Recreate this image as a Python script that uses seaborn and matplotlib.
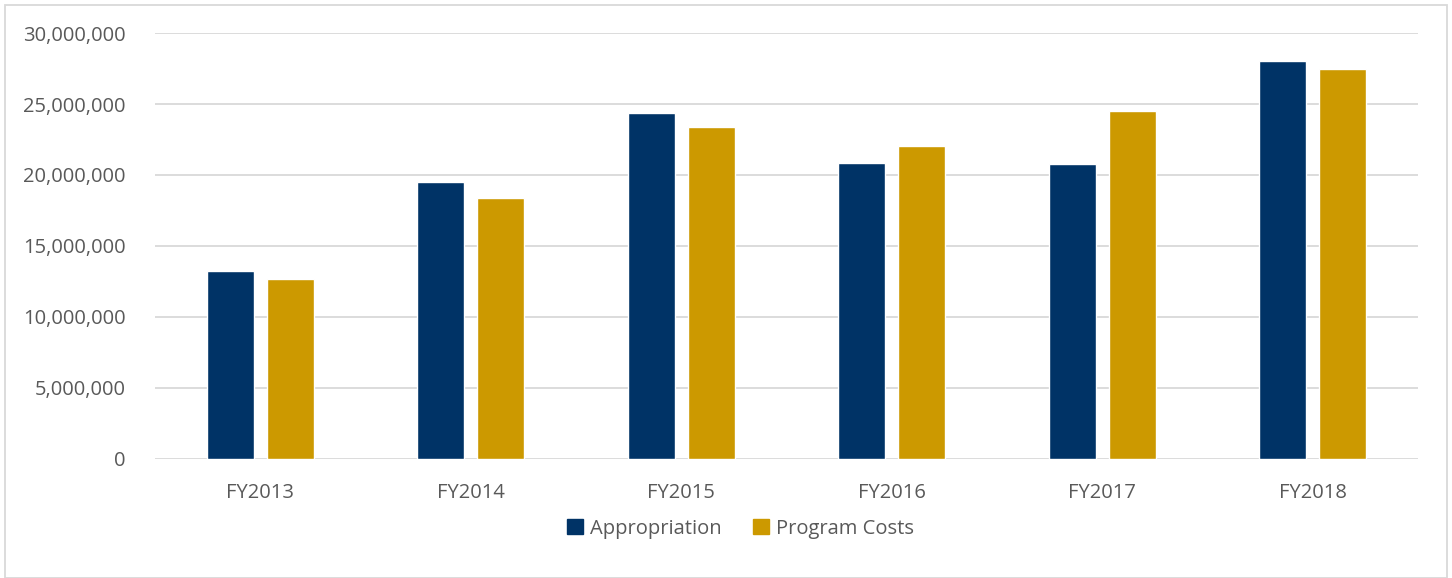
import pandas as pd
import seaborn as sns
import matplotlib.pyplot as plt
from matplotlib.patches import Rectangle
from matplotlib.ticker import FuncFormatter

years = ['FY2013', 'FY2014', 'FY2015', 'FY2016', 'FY2017', 'FY2018']
appropriation = [13220000, 19520000, 24390000, 20840000, 20790000, 28040000]
program_costs = [12680000, 18400000, 23410000, 22060000, 24510000, 27470000]
series = ['Appropriation', 'Program Costs']
colors = ['#003366', '#CC9900']

df = pd.DataFrame({
    'year': years * 2,
    'series': [series[0]] * len(years) + [series[1]] * len(years),
    'value': appropriation + program_costs,
})

sns.set_theme(style="white")
plt.rcParams['font.family'] = ['Open Sans', 'DejaVu Sans']

fig = plt.figure(figsize=(14.52, 5.78), dpi=100)
ax = fig.add_axes([0.1067, 0.2059, 0.87, 0.737])

sns.barplot(data=df, x='year', y='value', hue='series', palette=colors,
            saturation=1, width=0.571, gap=0.217, ax=ax, legend=True)

ax.set_ylim(0, 30000000)
ax.set_xlim(-0.5, 5.5)
ax.set_yticks(range(0, 30000001, 5000000))
ax.yaxis.set_major_formatter(FuncFormatter(lambda v, p: f'{int(v):,}'))
ax.grid(axis='y', color='#d9d9d9', linewidth=1.3)
ax.set_axisbelow(True)
for s in ax.spines.values():
    s.set_visible(False)
ax.set_xlabel('')
ax.set_ylabel('')
ax.tick_params(axis='both', length=0, labelsize=14.5, labelcolor='#595959')
ax.tick_params(axis='y', pad=21)
ax.tick_params(axis='x', pad=17)

ax.legend_.remove()
handles = [Rectangle((0, 0), 1, 1, color=c) for c in colors]
fig.legend(handles, series, loc='center', bbox_to_anchor=(0.51, 0.085),
           ncol=2, frameon=False, fontsize=14.5, labelcolor='#595959',
           handlelength=0.75, handleheight=0.75, handletextpad=0.35,
           columnspacing=1.6)

fig.patches.append(Rectangle((0.0035, 0.0), 0.993, 0.992, transform=fig.transFigure,
                             fill=False, edgecolor='#d9d9d9', linewidth=1.3))

fig.savefig('out.png', dpi=100)
